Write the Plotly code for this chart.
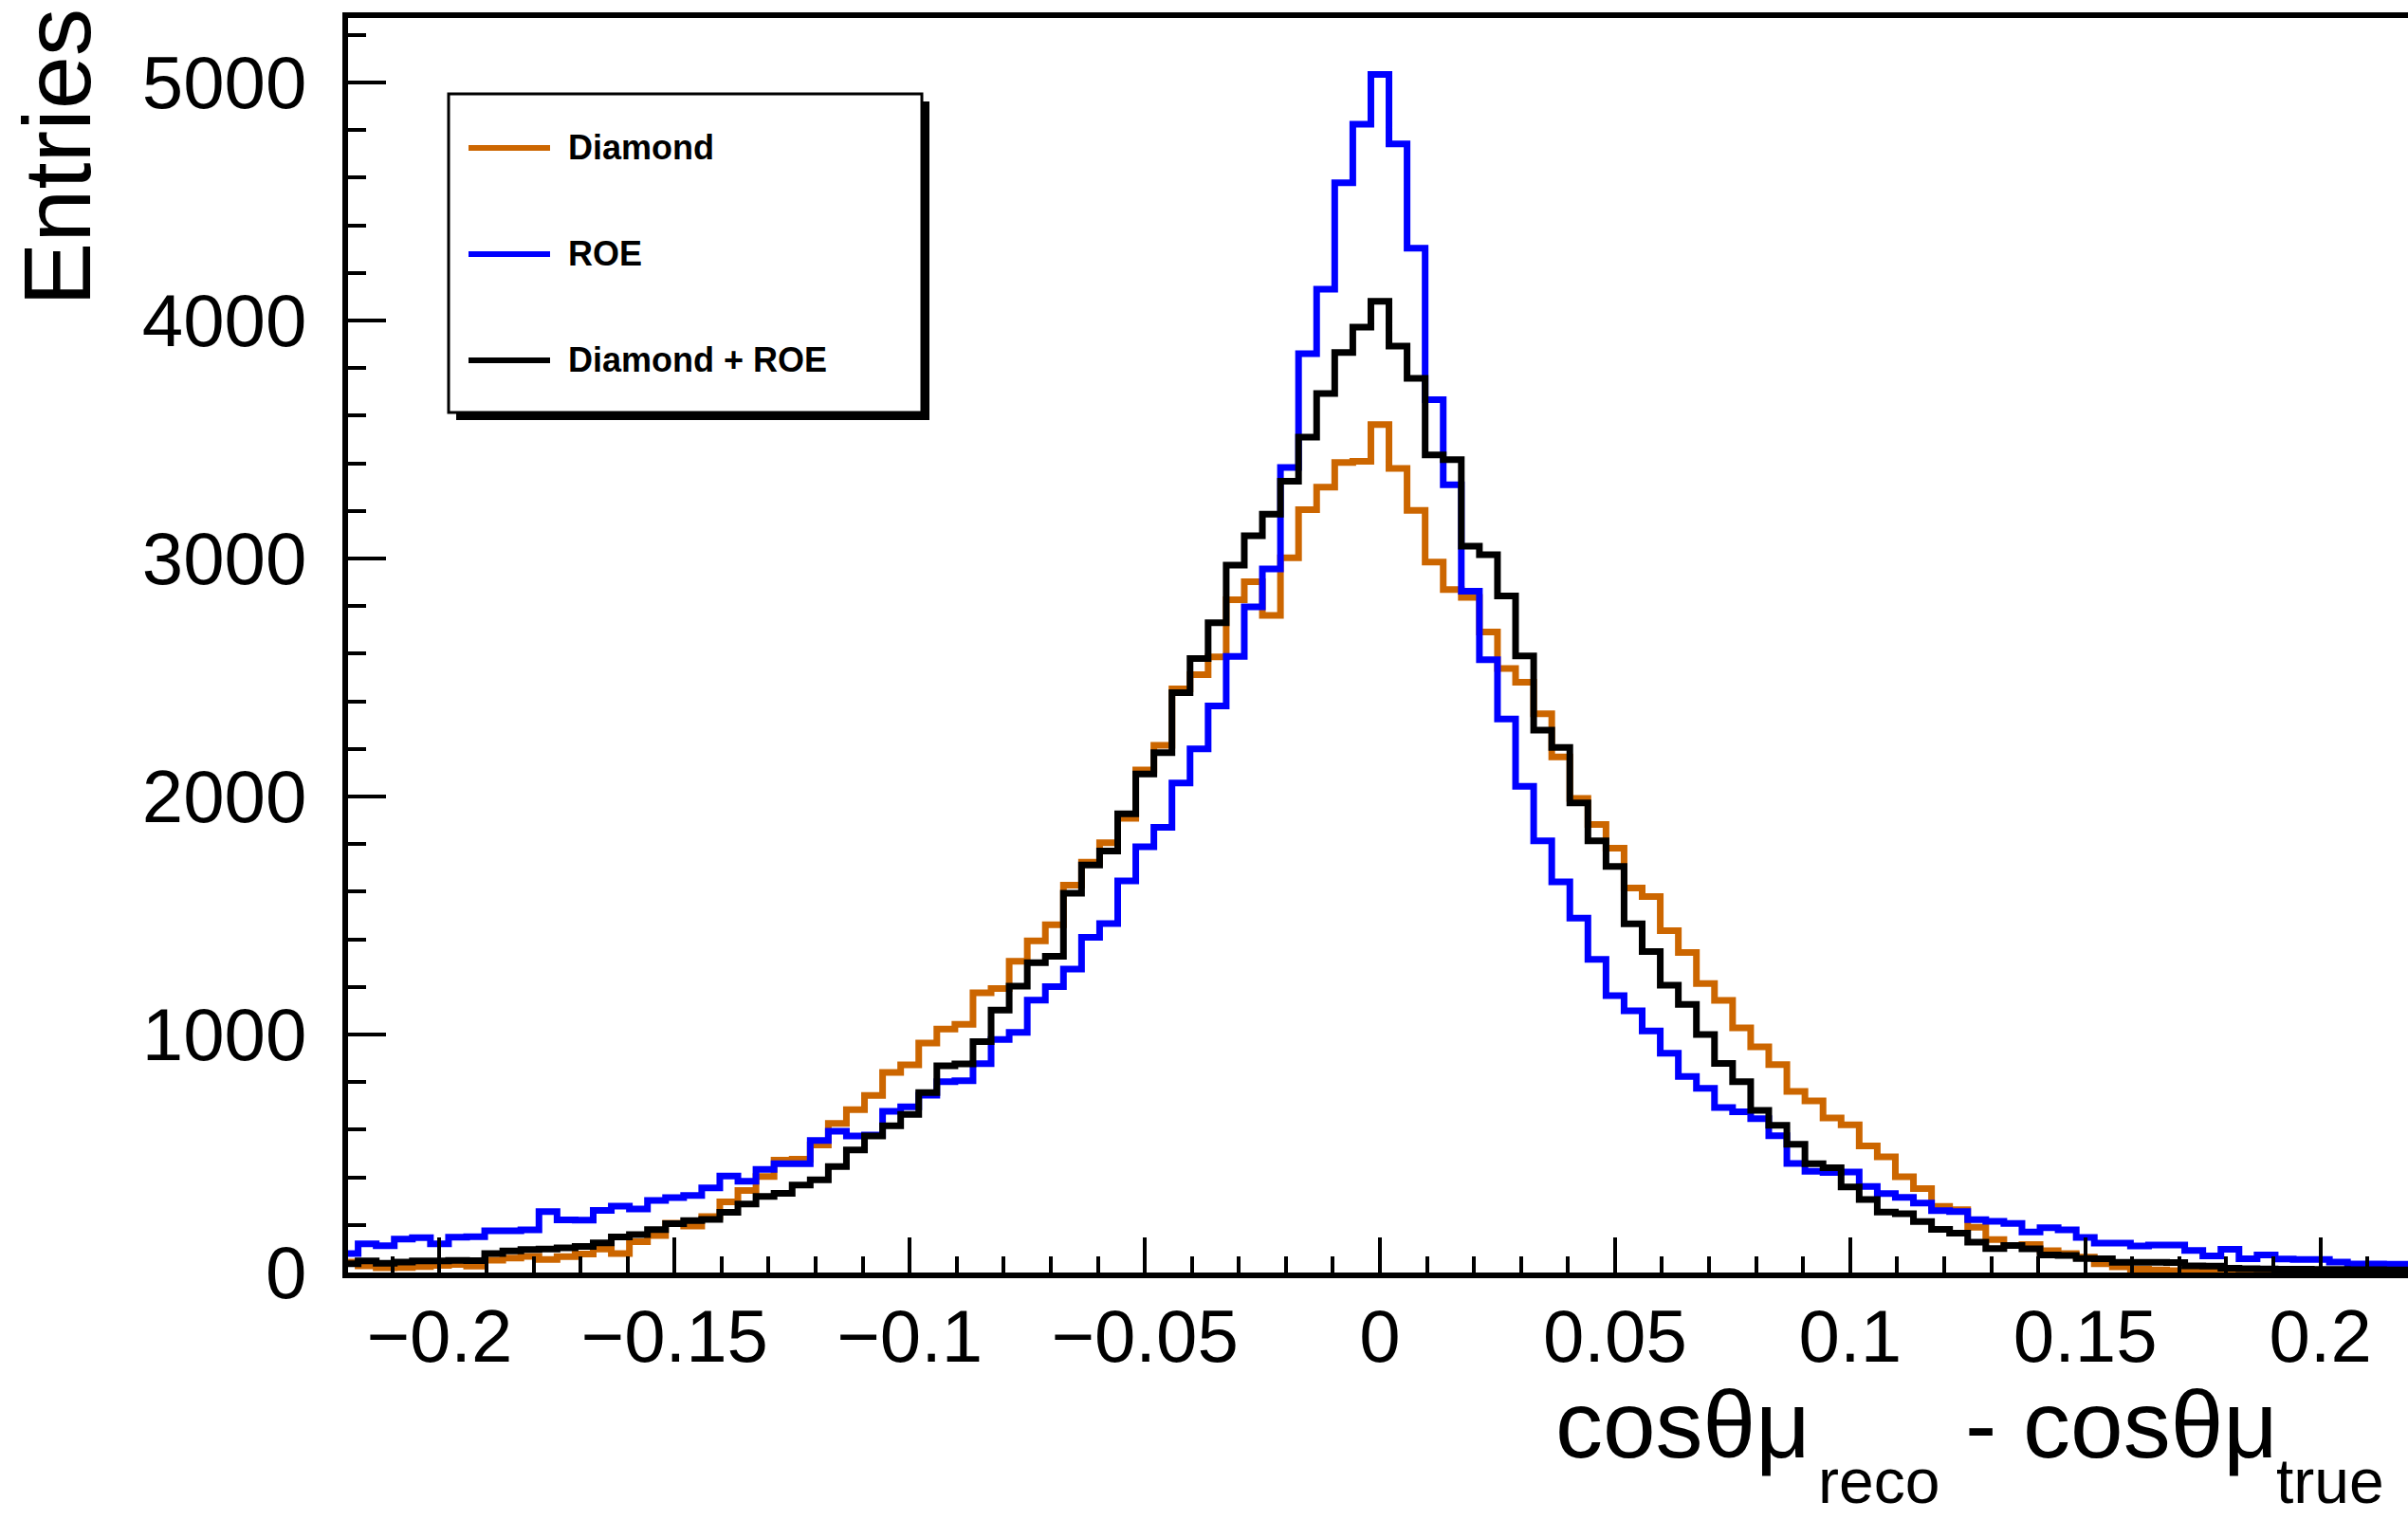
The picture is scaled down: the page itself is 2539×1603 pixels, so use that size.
import numpy as np
import plotly.graph_objects as go

# ---------------- data ----------------
BIN_WIDTH = 0.05 / 13          # histogram bin width
BIN_INDEX = list(range(-57, 58))  # bin k is centred at k * BIN_WIDTH

diamond = [44, 28, 20, 21, 25, 30, 34, 27, 52, 61,
           68, 55, 67, 78, 99, 80, 129, 155, 207, 195,
           235, 297, 345, 403, 472, 476, 536, 626, 684, 744,
           841, 873, 964, 1023, 1043, 1175, 1193, 1308, 1393, 1461,
           1627, 1724, 1806, 1908, 2112, 2215, 2452, 2512, 2587, 2827,
           2902, 2761, 3003, 3205, 3300, 3403, 3408,
           3563,
           3378, 3202, 2985, 2870, 2837, 2691, 2538, 2480, 2348, 2166,
           1992, 1882, 1783, 1616, 1580, 1436, 1345, 1214, 1143, 1028,
           948, 874, 761, 721, 649, 621, 532, 486, 402, 353,
           278, 264, 190, 138, 114, 118, 92, 80, 65, 37,
           24, 14, 11, 8, 5, 4, 6, 3, 2, 4,
           3, 2, 2, 3, 1, 1, 1]

roe = [80, 121, 113, 140, 146, 121, 148, 150, 175, 175,
       179, 256, 221, 220, 261, 279, 267, 303, 315, 324,
       356, 405, 383, 433, 457, 457, 555, 594, 574, 578,
       677, 696, 745, 802, 806, 877, 979, 1009, 1144, 1201,
       1275, 1408, 1466, 1645, 1789, 1871, 2057, 2200, 2380, 2589,
       2797, 2956, 3382, 3861, 4131, 4579, 4825,
       5034,
       4742, 4304, 3667, 3310, 2863, 2575, 2326, 2043, 1814, 1641,
       1489, 1316, 1163, 1100, 1015, 921, 824, 774, 693, 675,
       646, 575, 458, 425, 420, 422, 362, 332, 316, 292,
       260, 256, 222, 215, 206, 170, 188, 179, 147, 124,
       124, 112, 116, 116, 93, 70, 98, 58, 74, 57,
       55, 55, 44, 36, 36, 35, 35]

diamond_roe = [37, 49, 39, 44, 49, 49, 51, 50, 80, 91,
               97, 99, 104, 110, 125, 149, 159, 180, 205, 218,
               223, 253, 288, 320, 333, 368, 389, 445, 515, 574,
               617, 664, 756, 869, 876, 970, 1103, 1203, 1302, 1329,
               1594, 1712, 1771, 1927, 2095, 2184, 2436, 2580, 2730, 2972,
               3096, 3186, 3325, 3510, 3693, 3866, 3972,
               4081,
               3892, 3757, 3435, 3415, 3052, 3016, 2843, 2591, 2279, 2206,
               1973, 1814, 1706, 1465, 1349, 1207, 1126, 1000, 878, 802,
               681, 619, 539, 457, 440, 360, 307, 254, 247, 214,
               181, 165, 127, 101, 114, 100, 74, 72, 59, 58,
               43, 43, 43, 42, 28, 27, 18, 16, 15, 14,
               14, 13, 13, 12, 12, 11, 11]

series_names = ["Diamond", "ROE", "Diamond + ROE"]
series_values = [diamond, roe, diamond_roe]

X_TICKS = [-0.2, -0.15, -0.1, -0.05, 0, 0.05, 0.1, 0.15, 0.2]
Y_TICKS = [0, 1000, 2000, 3000, 4000, 5000]

# ---------------- styling / layout ----------------
W, H = 2539, 1603
L, R, T, B = 367, 0, 19, 261
PW, PH = W - L - R, H - T - B
X0_PX, X_SCALE = 1455.0, 4958.0   # pixel of x = 0 and pixels per unit
Y0_PX, Y_SCALE = 1342.0, 0.251    # pixel of y = 0 and pixels per entry
COLORS = ["#cc6600", "#0000ff", "#000000"]
FONT = "Liberation Sans, Arial, Helvetica, sans-serif"

assert all(len(v) == len(BIN_INDEX) for v in series_values)

centers = np.array(BIN_INDEX) * BIN_WIDTH
edges = list(centers - BIN_WIDTH / 2) + [centers[-1] + BIN_WIDTH / 2]

x_range = [(L - X0_PX) / X_SCALE, (W - R - X0_PX) / X_SCALE]
y_range = [0, (Y0_PX - T) / Y_SCALE]


def px_x(p):
    return (p - L) / PW


def px_y(p):
    return (H - B - p) / PH


fig = go.Figure()
for name, vals, col in zip(series_names, series_values, COLORS):
    fig.add_trace(go.Scatter(
        x=edges, y=list(vals) + [vals[-1]], mode="lines", name=name,
        line=dict(color=col, width=7, shape="hv"), showlegend=False,
        hoverinfo="skip"))

axis_common = dict(
    showline=True, linecolor="black", linewidth=6,
    showgrid=False, zeroline=False,
    ticks="inside", tickcolor="black", tickwidth=4,
    tickfont=dict(family=FONT, size=78, color="black"),
)

fig.update_xaxes(
    **axis_common, range=x_range, mirror=True,
    tickmode="array", tickvals=X_TICKS,
    ticktext=[("\u2212" if t < 0 else "") + f"{abs(t):g}" for t in X_TICKS],
    ticklen=37, ticklabelstandoff=-6,
    minor=dict(ticks="inside", dtick=0.01, tick0=0, ticklen=17,
               tickwidth=4, tickcolor="black"),
)
fig.update_yaxes(
    **axis_common, range=y_range,
    tickmode="array", tickvals=Y_TICKS, ticktext=[str(t) for t in Y_TICKS],
    ticklen=40, ticklabelstandoff=22,
    minor=dict(ticks="inside", dtick=200, tick0=0, ticklen=19,
               tickwidth=4, tickcolor="black"),
)

annotations = []
# y title
annotations.append(dict(text="Entries", x=px_x(60), y=px_y(166), xref="paper", yref="paper",
                        textangle=-90, showarrow=False, xanchor="center", yanchor="middle",
                        font=dict(family=FONT, size=101, color="black")))
# x title, built from pieces so the subscripts sit low as in the reference
MAIN_F, SUB_F = 100, 66
MAIN_BASE, SUB_BASE = 1545, 1591
annotations.append(dict(text="cos\u03b8\u03bc", x=px_x(1911), y=px_y(MAIN_BASE - 0.435 * MAIN_F),
                        xref="paper", yref="paper", showarrow=False, xanchor="right",
                        yanchor="middle", font=dict(family=FONT, size=MAIN_F, color="black")))
annotations.append(dict(text="reco", x=px_x(1915), y=px_y(SUB_BASE - 0.435 * SUB_F),
                        xref="paper", yref="paper", showarrow=False, xanchor="left",
                        yanchor="middle", font=dict(family=FONT, size=SUB_F, color="black")))
annotations.append(dict(text="- cos\u03b8\u03bc", x=px_x(2070), y=px_y(MAIN_BASE - 0.435 * MAIN_F),
                        xref="paper", yref="paper", showarrow=False, xanchor="left",
                        yanchor="middle", font=dict(family=FONT, size=MAIN_F, color="black")))
annotations.append(dict(text="true", x=px_x(2398), y=px_y(SUB_BASE - 0.435 * SUB_F),
                        xref="paper", yref="paper", showarrow=False, xanchor="left",
                        yanchor="middle", font=dict(family=FONT, size=SUB_F, color="black")))

# legend drawn ROOT-style (box with shadow)
shapes = []
shapes.append(dict(type="rect", xref="paper", yref="paper", layer="above",
                   x0=px_x(481), x1=px_x(980), y0=px_y(443), y1=px_y(107),
                   fillcolor="black", line=dict(width=0)))
shapes.append(dict(type="rect", xref="paper", yref="paper", layer="above",
                   x0=px_x(473), x1=px_x(972), y0=px_y(435), y1=px_y(99),
                   fillcolor="white", line=dict(color="black", width=3)))
for name, col, yy in zip(series_names, COLORS, [156, 268, 380]):
    shapes.append(dict(type="line", xref="paper", yref="paper", layer="above",
                       x0=px_x(494), x1=px_x(580), y0=px_y(yy), y1=px_y(yy),
                       line=dict(color=col, width=6)))
    annotations.append(dict(text=f"<b>{name}</b>", x=px_x(597), y=px_y(yy),
                            xref="paper", yref="paper", showarrow=False,
                            xanchor="left", yanchor="middle",
                            font=dict(family=FONT, size=36, color="black")))

fig.update_layout(
    width=W, height=H, autosize=False,
    margin=dict(l=L, r=R, t=T, b=B, pad=0),
    paper_bgcolor="white", plot_bgcolor="white",
    showlegend=False, annotations=annotations, shapes=shapes,
)

fig.write_html("out.html",
               config={"displayModeBar": False},
               post_script="document.body.style.margin='0px';"
                           "document.body.style.overflow='hidden';")
